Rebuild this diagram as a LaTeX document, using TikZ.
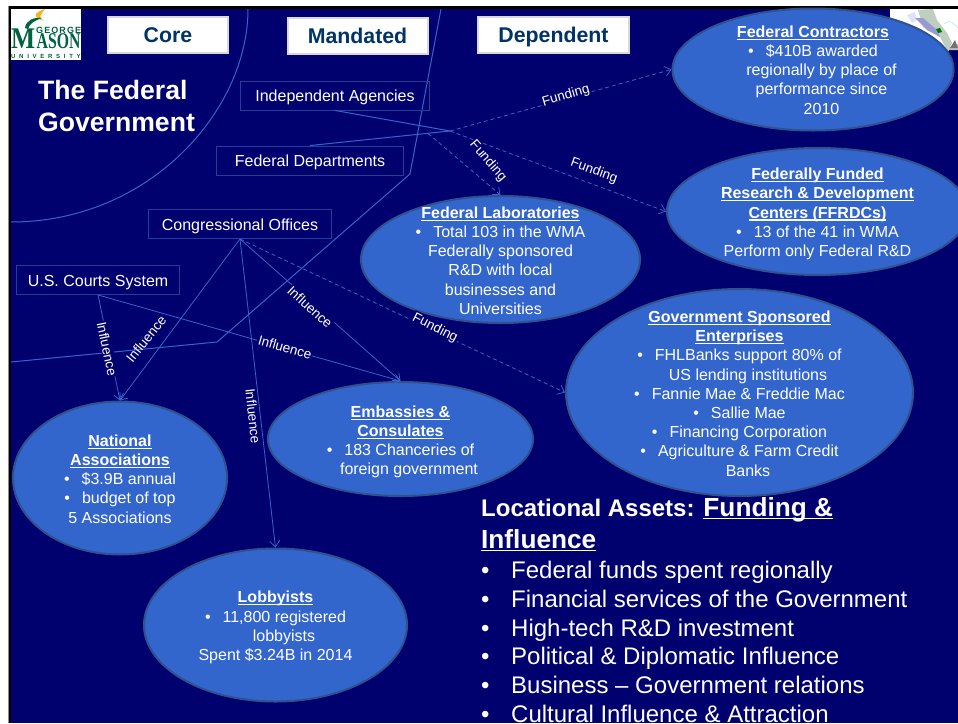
\documentclass[tikz,border=0pt]{standalone}
\usepackage{fontspec}
\setmainfont{Liberation Sans}
\newfontfamily\logoserif{Liberation Serif}
\usepackage{xcolor}
\definecolor{slidenavy}{RGB}{0,0,110}
\definecolor{bubbleblue}{RGB}{51,102,204}
\definecolor{bubbleedge}{RGB}{47,82,143}
\definecolor{boxedge}{RGB}{31,66,150}
\definecolor{tabtext}{RGB}{0,51,102}
\definecolor{tabedge}{RGB}{217,217,217}
\definecolor{masongreen}{RGB}{0,98,65}
\definecolor{masongold}{RGB}{245,180,30}
\usetikzlibrary{shapes.geometric}
\usetikzlibrary{arrows.meta}
\newsavebox{\ulbox}
\newcommand{\uline}[1]{\sbox{\ulbox}{#1}\rlap{\rule[-2.4pt]{\wd\ulbox}{1.1pt}}\usebox{\ulbox}}
\newcommand{\bul}{\textbullet\hspace{12pt}}
\newcommand{\hng}{\hspace*{17pt}}
\tikzset{
    >={Straight Barb[length=6pt,width=10pt]},
    tab/.style={draw=tabedge, line width=2pt, fill=white, text=tabtext, minimum height=36pt, text height=16pt, text depth=0pt, font=\fontsize{21.3}{26}\selectfont\bfseries},
    office/.style={draw=boxedge, line width=0.9pt, text=white, minimum height=29pt, text height=12.5pt, text depth=0pt, font=\fontsize{16}{19}\selectfont},
    bubble/.style={ellipse, draw=bubbleedge, line width=2pt, fill=bubbleblue, inner sep=0pt},
    bubbletext/.style={text=white, align=center, inner sep=0pt, font=\fontsize{16}{19.2}\selectfont},
    link/.style={bubbleblue, line width=1pt},
    funding/.style={link, dashed, line width=0.8pt, dash pattern=on 4pt off 3pt},
    linklabel/.style={text=white, inner sep=1pt, font=\fontsize{13.5}{16}\selectfont},
    linkgap/.style={linklabel, fill=slidenavy}
}

\begin{document}
\begin{tikzpicture}[x=1pt,y=-1pt]
    \useasboundingbox (0,0) rectangle (958,723);
    \fill[white] (0,0) rectangle (958,723);
    \fill[black!45] (8,6) rectangle (9,723);
    \fill[black] (9,6) rectangle (958,723);
    \fill[slidenavy] (11,9) rectangle (958,723);

    \fill[white] (11,9) rectangle (81,60);
    \fill[masongold] (44,21) .. controls (30,16) and (36,12) .. (45,9) .. controls (40,16) and (38,17) .. (44,21);
    \fill[masongreen] (25,28) .. controls (26,20) and (34,17) .. (42,18) .. controls (34,21) and (30,23) .. (28,29) -- cycle;
    \node[text=masongreen, inner sep=0pt, anchor=base west, font=\fontsize{9}{10}\selectfont\bfseries\addfontfeature{LetterSpace=12}] (logo-george) at (36,33.5) {GEORGE};
    \node[text=masongreen, inner sep=0pt, anchor=base west, font=\fontsize{30}{30}\logoserif\selectfont\bfseries] (logo-m) at (11,48.5) {\scalebox{.85}[1]{M}};
    \node[text=masongreen, inner sep=0pt, anchor=base west, font=\fontsize{22.5}{22}\logoserif\selectfont\bfseries] (logo-ason) at (36.5,48.5) {\scalebox{.7}[1]{ASON}};
    \node[text=masongreen, inner sep=0pt, anchor=base west, font=\fontsize{6}{7}\selectfont\bfseries\addfontfeature{LetterSpace=62}] (logo-university) at (11,58) {UNIVERSITY};

    \fill[white] (890,9) rectangle (958,50);
    \fill[black!25] (945,50) -- (958,44) -- (958,50) -- cycle;
    \fill[blue!12] (907,15) -- (915,12) -- (917,20) -- (912,23) -- cycle;
    \fill[green!25!black!25] (918,10) -- (933,9) -- (937,20) -- (947,33) -- (952,43) -- (948,52) -- (940,37) -- (923,27) -- cycle;
    \fill[blue!60!black!40] (915,18) -- (923,18) -- (937,30) -- (940,37) -- (927,30) -- cycle;
    \fill[green!45!black] (936,29) -- (940,28) -- (942,32) -- (938,33) -- cycle;
    \fill[black!55] (950,48) -- (955,40) -- (958,48) -- cycle;
    \draw[cyan!40] (944,24) .. controls (950,18) and (954,24) .. (958,28);

    \draw[link] (248,9) .. controls (248,110) and (150,222) .. (11,222);
    \draw[link] (441,9) -- (410,174) -- (217,342) -- (11,362);

    \node[tab, minimum width=120pt] (core) at (168,34.5) {Core};
    \node[tab, minimum width=140pt] (mandated) at (357.5,35.5) {Mandated};
    \node[tab, minimum width=151pt] (dependent) at (553.5,34.5) {Dependent};

    \node[text=white, align=left, inner sep=0pt, anchor=north west, font=\fontsize{26.6}{32}\selectfont\bfseries] (title) at (38,80) {The Federal\\Government};

    \node[office, minimum width=189pt] (agencies) at (335,95.5) {Independent Agencies};
    \node[office, minimum width=187pt] (departments) at (310,160.5) {Federal Departments};
    \node[office, minimum width=183pt] (congress) at (240,224) {Congressional Offices};
    \node[office, minimum width=163pt] (courts) at (98,280) {U.S. Courts System};

    \node[bubble, minimum width=281pt, minimum height=122pt] (contractors) at (813,69.5) {};
    \node[bubble, minimum width=301pt, minimum height=127pt] (ffrdc) at (817.5,211.5) {};
    \node[bubble, minimum width=279pt, minimum height=127pt] (labs) at (500.5,259.5) {};
    \node[bubble, minimum width=347pt, minimum height=207pt] (gse) at (739.5,392.5) {};
    \node[bubble, minimum width=265pt, minimum height=114pt] (embassies) at (400.5,439) {};
    \node[bubble, minimum width=214pt, minimum height=153pt] (associations) at (120,478) {};
    \node[bubble, minimum width=263pt, minimum height=153pt] (lobbyists) at (275.5,625) {};

    \coordinate (fund-split) at (450,131);
    \coordinate (lab-split) at (428,133.4);

    \draw[link] (agencies.south) -- (fund-split);
    \draw[link] (departments.north) -- (fund-split);
    \draw[funding, ->] (fund-split) -- (contractors.west);
    \draw[funding, ->] (fund-split) -- (ffrdc.west);
    \draw[funding, ->] (lab-split) -- (labs.north);
    \draw[funding, ->] (congress.south) -- (gse.west);
    \draw[link, line width=0.8pt, ->] (congress.south) -- (associations.north);
    \draw[link, line width=0.8pt, ->] (congress.south) -- (lobbyists.north);
    \draw[link, line width=0.8pt, ->] (congress.south) -- (embassies.north);
    \draw[link, line width=0.8pt, ->] (courts.south) -- (associations.north);
    \draw[link, line width=0.8pt, ->] (courts.south) -- (embassies.north);

    \node[linkgap, rotate=16] (funding-contractors) at (566,96) {Funding};
    \node[linklabel, rotate=-20] (funding-ffrdc) at (594,171) {Funding};
    \node[linkgap, rotate=-49] (funding-labs) at (488,161) {Funding};
    \node[linkgap, rotate=-27] (funding-gse) at (435,328) {Funding};
    \node[linkgap, rotate=-42] (influence-embassies) at (310,307) {Influence};
    \node[linkgap, rotate=-16] (influence-courts) at (285,347) {Influence};
    \node[linklabel, rotate=51] (influence-associations) at (146,339) {Influence};
    \node[linkgap, rotate=-78] (influence-courts-assoc) at (107,349) {Influence};
    \node[linkgap, rotate=-84] (influence-lobbyists) at (253,416) {Influence};

    \node[bubbletext] (contractors-text) at (813,70) {\uline{\textbf{Federal Contractors}}\\\bul \$410B awarded\\\hng regionally by place of\\\hng performance since\\\hng 2010};
    \node[bubbletext] (ffrdc-text) at (817.5,214) {\uline{\textbf{Federally Funded}}\\\uline{\textbf{Research \& Development}}\\\uline{\textbf{Centers (FFRDCs)}}\\\bul 13 of the 41 in WMA\\Perform only Federal R\&D};
    \node[bubbletext] (labs-text) at (500.5,260.5) {\uline{\textbf{Federal Laboratories}}\\\bul Total 103 in the WMA\\Federally sponsored\\R\&D with local\\businesses and\\Universities};
    \node[bubbletext] (gse-text) at (739.5,393.5) {\uline{\textbf{Government Sponsored}}\\\uline{\textbf{Enterprises}}\\\bul FHLBanks support 80\% of\\\hng US lending institutions\\\bul Fannie Mae \& Freddie Mac\\\bul Sallie Mae\\\bul Financing Corporation\\\bul Agriculture \& Farm Credit\\\hng Banks};
    \node[bubbletext] (embassies-text) at (400.5,442) {\uline{\textbf{Embassies \&}}\\\uline{\textbf{Consulates}}\\\bul 183 Chanceries of\\\hng foreign government};
    \node[bubbletext] (associations-text) at (120,479) {\uline{\textbf{National}}\\\uline{\textbf{Associations}}\\\bul \$3.9B annual\\\bul budget of top\\5 Associations};
    \node[bubbletext] (lobbyists-text) at (275.5,627.5) {\uline{\textbf{Lobbyists}}\\\bul 11,800 registered\\\hng lobbyists\\Spent \$3.24B in 2014};

    \node[text=white, align=left, inner sep=0pt, anchor=north west, font=\fontsize{24}{32}\selectfont\bfseries] (assets-title) at (481,497.5) {Locational Assets: {\fontsize{26.2}{32}\selectfont\uline{Funding \&}}\\{\fontsize{26.2}{32}\selectfont\uline{Influence}}};
    \node[text=white, align=left, inner sep=0pt, anchor=north west, font=\fontsize{24}{28.7}\selectfont] (assets-list) at (481,561) {%
        \makebox[30pt][l]{\textbullet}Federal funds spent regionally\\
        \makebox[30pt][l]{\textbullet}Financial services of the Government\\
        \makebox[30pt][l]{\textbullet}High-tech R\&D investment\\
        \makebox[30pt][l]{\textbullet}Political \& Diplomatic Influence\\
        \makebox[30pt][l]{\textbullet}Business -- Government relations\\
        \makebox[30pt][l]{\textbullet}Cultural Influence \& Attraction};
\end{tikzpicture}
\end{document}
